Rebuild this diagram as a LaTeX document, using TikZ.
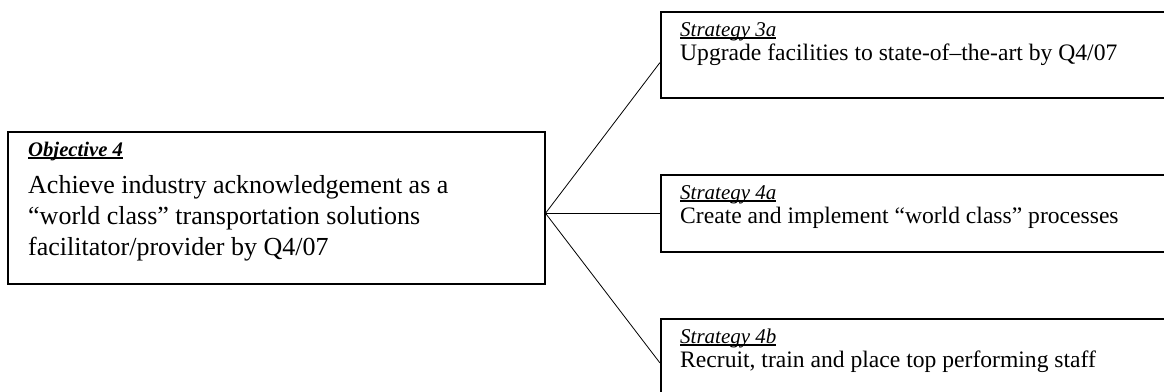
\documentclass[tikz,border=0pt]{standalone}
\usepackage{fontspec}
\setmainfont{Liberation Serif}
\usetikzlibrary{positioning, calc}
\tikzset{box/.style={draw, line width=1.5pt, rectangle, inner sep=0pt, anchor=north west}}
\tikzset{tag/.style={anchor=base west, inner sep=0pt, font=\fontsize{21}{24}\selectfont\itshape}}
\tikzset{txt/.style={anchor=base west, inner sep=0pt, align=left, font=\fontsize{23.6}{28}\selectfont}}
\tikzset{link/.style={line width=0.8pt}}
% underline drawn close to the baseline
\newcommand\tagline[1]{\setbox0\hbox{#1}\rlap{\rule[-2.6pt]{\wd0}{1.3pt}}\box0}

\begin{document}
\begin{tikzpicture}[x=1pt,y=-1pt]
      \useasboundingbox (0,0) rectangle (1164,391);

      \node[box, minimum width=537pt, minimum height=152pt] (obj) at (7,131) {};
      \node[tag, font=\fontsize{20.7}{24}\selectfont\bfseries\itshape] (objtag) at (28,156) {\tagline{Objective 4}};
      \node[txt, font=\fontsize{26}{31}\selectfont] (objtxt) at (28,255) {Achieve industry acknowledgement as a\\
        “world class” transportation solutions\\
        facilitator/provider by Q4/07};

      \node[box, minimum width=520pt, minimum height=86pt] (s3a) at (660,11) {};
      \node[tag] (s3atag) at (680,36) {\tagline{Strategy 3a}};
      \node[txt] (s3atxt) at (680,60) {Upgrade facilities to state-of–the-art by Q4/07};

      \node[box, minimum width=520pt, minimum height=77pt] (s4a) at (660,174) {};
      \node[tag] (s4atag) at (680,199) {\tagline{Strategy 4a}};
      \node[txt] (s4atxt) at (680,223) {Create and implement “world class” processes};

      \node[box, minimum width=520pt, minimum height=90pt] (s4b) at (660,318) {};
      \node[tag] (s4btag) at (680,343) {\tagline{Strategy 4b}};
      \node[txt] (s4btxt) at (680,367) {Recruit, train and place top performing staff};

      % lines from the objective to each strategy
      \coordinate (hub) at (obj.east |- s4a.west);
      \draw[link] (hub) -- ([yshift=36pt]s3a.south west);
      \draw[link] (hub) -- (s4a.west);
      \draw[link] (hub) -- ([yshift=-45pt]s4b.north west);
\end{tikzpicture}
\end{document}
